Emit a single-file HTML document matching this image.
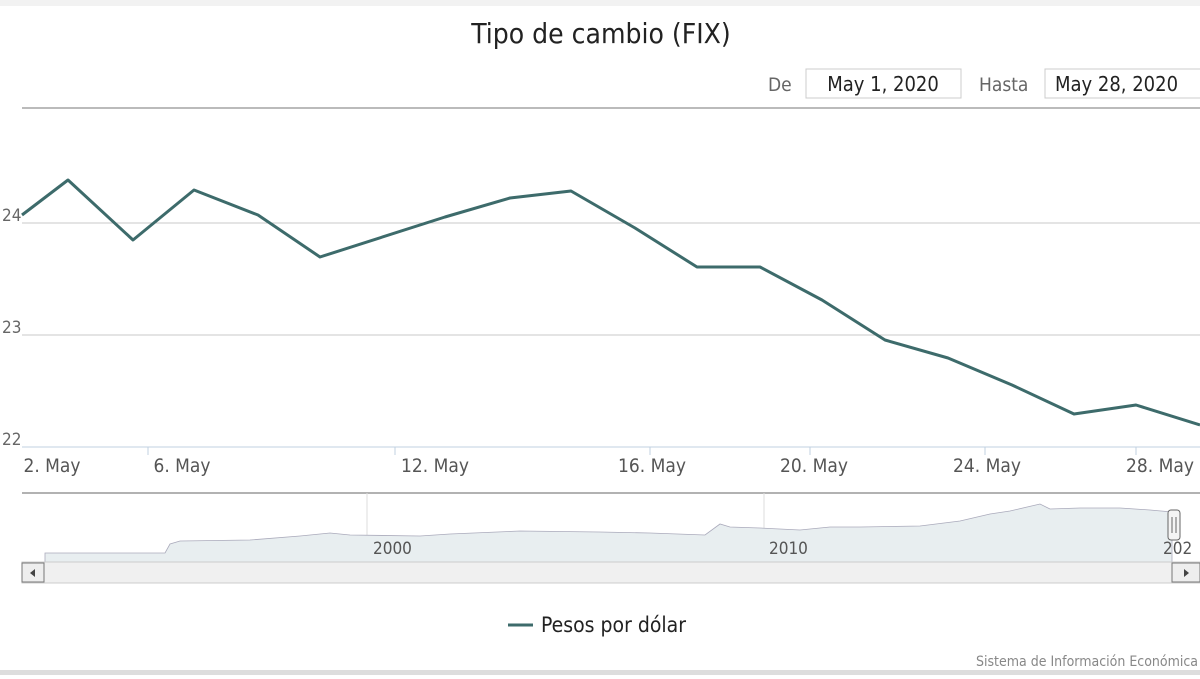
<!DOCTYPE html>
<html><head><meta charset="utf-8"><style>
body{margin:0;background:#fff;width:1200px;height:675px;overflow:hidden;font-family:"DejaVu Sans Condensed","DejaVu Sans","Liberation Sans",sans-serif}
</style></head><body>
<svg width="1200" height="675" xmlns="http://www.w3.org/2000/svg" font-family="DejaVu Sans Condensed, DejaVu Sans, Liberation Sans, sans-serif">
<rect x="0" y="0" width="1200" height="6" fill="#f2f2f2"/>
<text x="601" y="43" text-anchor="middle" font-size="28" fill="#222">Tipo de cambio (FIX)</text>
<text x="768" y="91" font-size="19" fill="#666">De</text>
<rect x="806" y="69" width="155" height="29" fill="#fff" stroke="#ccc"/>
<text x="883" y="91" text-anchor="middle" font-size="20" fill="#222">May 1, 2020</text>
<text x="979" y="91" font-size="19" fill="#666">Hasta</text>
<rect x="1045" y="69" width="160" height="29" fill="#fff" stroke="#ccc"/>
<text x="1055" y="91" font-size="20" fill="#222">May 28, 2020</text>
<line x1="22" y1="108" x2="1200" y2="108" stroke="#bbb" stroke-width="2"/>
<line x1="22" y1="223" x2="1200" y2="223" stroke="#c8c8c8"/>
<line x1="22" y1="335" x2="1200" y2="335" stroke="#c8c8c8"/>
<line x1="22" y1="447" x2="1200" y2="447" stroke="#c0d0e0"/>
<g font-size="17" fill="#666">
<text x="2" y="221">24</text><text x="2" y="333">23</text><text x="2" y="445">22</text>
</g>
<g font-size="19" fill="#555" text-anchor="middle">
<text x="52" y="472">2. May</text><text x="182" y="472">6. May</text><text x="435" y="472">12. May</text><text x="652" y="472">16. May</text><text x="814" y="472">20. May</text><text x="987" y="472">24. May</text><text x="1160" y="472">28. May</text>
</g>
<g stroke="#c0d0e0"><line x1="148" y1="447" x2="148" y2="455"/><line x1="395" y1="447" x2="395" y2="455"/><line x1="650" y1="447" x2="650" y2="455"/><line x1="810" y1="447" x2="810" y2="455"/><line x1="985" y1="447" x2="985" y2="455"/><line x1="1136" y1="447" x2="1136" y2="455"/></g>
<polyline fill="none" stroke="#3d6b6b" stroke-width="3" stroke-linejoin="round" points="22,215 68,180 133,240 194,190 258,215 320,257 445,217 510,198 571,191 635,228 697,267 760,267 822,300 885,340 948,358 1012,385 1074,414 1136,405 1200,425"/>
<line x1="22" y1="493" x2="1200" y2="493" stroke="#999" stroke-width="1.5"/>
<line x1="367" y1="493" x2="367" y2="562" stroke="#ddd"/>
<line x1="764" y1="493" x2="764" y2="562" stroke="#ddd"/>
<polygon fill="#e8eef0" stroke="#aab" stroke-width="0.8" points="45,562 45,553 165,553 170,544 180,541 250,540 300,536 330,533 350,535 420,536 450,534 520,531 600,532 650,533 705,535 720,524 730,527 760,528 800,530 830,527 860,527 920,526 960,521 990,514 1010,511 1040,504 1050,509 1080,508 1120,508 1150,510 1172,512 1172,562"/>
<g font-size="17" fill="#555"><text x="373" y="554">2000</text><text x="769" y="554">2010</text><text x="1163" y="554">202</text></g>
<rect x="1168" y="510" width="12" height="30" rx="3" fill="#f4f4f4" stroke="#666"/>
<line x1="1172" y1="517" x2="1172" y2="533" stroke="#666"/><line x1="1176" y1="517" x2="1176" y2="533" stroke="#666"/>
<rect x="22" y="562" width="1178" height="21" fill="#f0f0f0" stroke="#ccc"/>
<rect x="22" y="563" width="22" height="19" fill="#eee" stroke="#777"/>
<polygon points="35,569 30,573 35,577" fill="#444"/>
<rect x="1172" y="563" width="28" height="19" fill="#eee" stroke="#777"/>
<polygon points="1184,569 1189,573 1184,577" fill="#444"/>
<line x1="508" y1="625" x2="533" y2="625" stroke="#3d6b6b" stroke-width="3"/>
<text x="541" y="632" font-size="21" fill="#222">Pesos por dólar</text>
<text x="1198" y="666" text-anchor="end" font-size="14" fill="#888">Sistema de Información Económica</text>
<rect x="0" y="670" width="1200" height="5" fill="#ddd"/>
</svg>
</body></html>
